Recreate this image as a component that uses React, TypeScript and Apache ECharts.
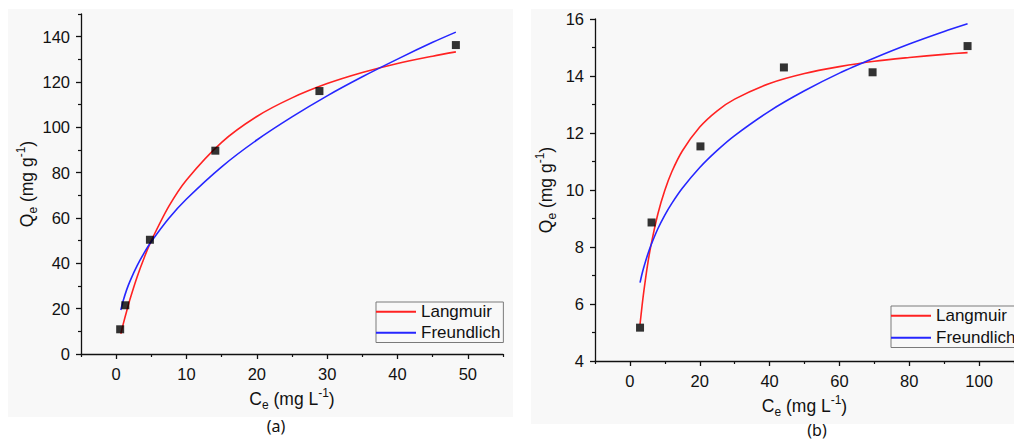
import React, { useEffect, useRef } from "react";
import * as echarts from "echarts";

// ---- Panel (a) ----
const aDataCe = [0.57, 1.3, 4.8, 14.1, 28.9, 48.3];
const aDataQe = [10.9, 21.5, 50.4, 89.7, 116, 136.3];
const aCurveCe = [0.66, 1, 1.5, 2, 3, 4, 5, 7.5, 10, 15, 20, 25, 30, 35, 40, 45, 48.3];
const aLangmuirQe = [8.96, 13.2, 19.0, 24.5, 34.2, 42.6, 50.0, 65.2, 76.8, 93.4, 104.8, 113.0, 119.3, 124.2, 128.2, 131.4, 133.3];
const aFreundlichQe = [19.4, 23.5, 28.4, 32.4, 39.1, 44.7, 49.6, 59.9, 68.4, 82.6, 94.4, 104.6, 113.9, 122.3, 130.1, 137.5, 142.0];
const aXMajor = [0, 10, 20, 30, 40, 50];
const aXMinor = [-5, 5, 15, 25, 35, 45, 55];
const aYMajor = [0, 20, 40, 60, 80, 100, 120, 140];
const aYMinor = [10, 30, 50, 70, 90, 110, 130, 150];

// ---- Panel (b) ----
const bDataCe = [2.9, 6.2, 20.2, 44.1, 69.5, 96.7];
const bDataQe = [5.17, 8.86, 11.53, 14.3, 14.13, 15.05];
const bCurveCe = [2.9, 3.5, 4, 5, 6, 8, 10, 12, 15, 20, 25, 30, 40, 50, 60, 70, 80, 90, 96.7];
const bLangmuirQe = [5.29, 5.96, 6.46, 7.33, 8.04, 9.16, 9.99, 10.64, 11.37, 12.21, 12.78, 13.19, 13.74, 14.09, 14.33, 14.52, 14.65, 14.76, 14.82];
const bFreundlichQe = [6.75, 7.07, 7.3, 7.7, 8.05, 8.64, 9.12, 9.53, 10.06, 10.79, 11.39, 11.91, 12.77, 13.48, 14.1, 14.63, 15.12, 15.56, 15.83];
const bXMajor = [0, 20, 40, 60, 80, 100];
const bXMinor = [-10, 10, 30, 50, 70, 90, 110];
const bYMajor = [4, 6, 8, 10, 12, 14, 16];
const bYMinor = [5, 7, 9, 11, 13, 15];

const legendNames = ["Langmuir", "Freundlich"];
const panelLabels = ["(a)", "(b)"];

const FONT = "'Liberation Sans', Arial, sans-serif";
const RED = "#ff2222";
const BLUE = "#2626ff";

const zip = (xs: number[], ys: number[]) => xs.map((x, i) => [x, ys[i]]);

const nameRich = {
  n: { fontSize: 17.5, fontFamily: FONT, color: "#111", lineHeight: 24 },
  sub: { fontSize: 12, fontFamily: FONT, color: "#111", verticalAlign: "bottom" as const },
  sup: { fontSize: 12, fontFamily: FONT, color: "#111", verticalAlign: "top" as const },
};

function majorAxis(grid: number, pos: string, min: number, max: number, interval: number, ticks: number[], name: string, gap: number) {
  return {
    type: "value",
    gridIndex: grid,
    position: pos,
    min,
    max,
    interval,
    name,
    nameLocation: "middle",
    nameGap: gap,
    nameTextStyle: { rich: nameRich },
    axisLine: { show: true, onZero: false, lineStyle: { color: "#111", width: 1.3 } },
    axisTick: { show: true, inside: false, length: 5, customValues: ticks, lineStyle: { color: "#111", width: 1.3 } },
    axisLabel: {
      show: true,
      margin: 11,
      fontSize: 16.5,
      fontFamily: FONT,
      color: "#111",
      customValues: ticks,
    },
    splitLine: { show: false },
  };
}

function minorAxis(grid: number, pos: string, min: number, max: number, interval: number, ticks: number[]) {
  return {
    type: "value",
    gridIndex: grid,
    position: pos,
    offset: 0,
    min,
    max,
    interval,
    axisLine: { show: false, onZero: false },
    axisTick: { show: true, inside: false, length: 3, customValues: ticks, lineStyle: { color: "#111", width: 1.2 } },
    axisLabel: { show: false },
    splitLine: { show: false },
  };
}

function legendFor(left: number, top: number, gap: number) {
  return {
    data: legendNames,
    left,
    top,
    orient: "vertical",
    icon: "rect",
    itemWidth: 40,
    itemHeight: 2,
    itemGap: gap,
    padding: [1.25, 3, 1.25, 0],
    borderColor: "#7a7a7a",
    borderWidth: 1,
    textStyle: { fontSize: 17, fontFamily: FONT, color: "#111" },
  };
}

function lineSeries(name: string, color: string, xi: number, yi: number, data: number[][]) {
  return {
    type: "line",
    name,
    xAxisIndex: xi,
    yAxisIndex: yi,
    data,
    smooth: 0.3,
    showSymbol: false,
    symbol: "none",
    color,
    lineStyle: { color, width: 1.6 },
    z: 2,
  };
}

function scatterSeries(name: string, xi: number, yi: number, data: number[][]) {
  return {
    type: "scatter",
    name,
    xAxisIndex: xi,
    yAxisIndex: yi,
    data,
    symbol: "rect",
    symbolSize: 8,
    itemStyle: { color: "#000" },
    z: 5,
  };
}

export default function App() {
  const ref = useRef<HTMLDivElement>(null);
  useEffect(() => {
    if (!ref.current) return;
    const chart = echarts.init(ref.current, undefined, { renderer: "svg" });
    const xName = "{n|C}{sub|e}{n| (mg L}{sup|-1}{n|)}";
    const yName = "{n|Q}{sub|e}{n| (mg g}{sup|-1}{n|)}";
    chart.setOption({
      animation: false,
      backgroundColor: "#ffffff",
      graphic: [
        { type: "rect", shape: { x: 8, y: 9, width: 505, height: 408 }, style: { fill: "#f8f8f8" }, z: -10, silent: true },
        { type: "rect", shape: { x: 531, y: 9, width: 490, height: 415 }, style: { fill: "#f8f8f8" }, z: -10, silent: true },
        { type: "text", x: 276, y: 426, style: { text: panelLabels[0], font: "16px 'Noto Sans', sans-serif", fill: "#111", align: "center", verticalAlign: "middle" }, z: 10 },
        { type: "text", x: 817, y: 430, style: { text: panelLabels[1], font: "16px 'Noto Sans', sans-serif", fill: "#111", align: "center", verticalAlign: "middle" }, z: 10 },
      ],
      grid: [
        { left: 81, top: 14, width: 422, height: 340 },
        { left: 595, top: 19, width: 425, height: 342 },
      ],
      xAxis: [
        majorAxis(0, "bottom", -5, 55, 5, aXMajor, xName, 33),
        minorAxis(0, "bottom", -5, 55, 5, aXMinor),
        majorAxis(1, "bottom", -10, 110, 10, bXMajor, xName, 32),
        minorAxis(1, "bottom", -10, 110, 10, bXMinor),
      ],
      yAxis: [
        majorAxis(0, "left", 0, 150, 10, aYMajor, yName, 41),
        minorAxis(0, "left", 0, 150, 10, aYMinor),
        majorAxis(1, "left", 4, 16, 1, bYMajor, yName, 37),
        minorAxis(1, "left", 4, 16, 1, bYMinor),
      ],
      legend: [legendFor(376, 302, 4), legendFor(891, 306, 5)],
      series: [
        lineSeries(legendNames[0], RED, 0, 0, zip(aCurveCe, aLangmuirQe)),
        lineSeries(legendNames[1], BLUE, 0, 0, zip(aCurveCe, aFreundlichQe)),
        scatterSeries("Data (a)", 0, 0, zip(aDataCe, aDataQe)),
        lineSeries(legendNames[0], RED, 2, 2, zip(bCurveCe, bLangmuirQe)),
        lineSeries(legendNames[1], BLUE, 2, 2, zip(bCurveCe, bFreundlichQe)),
        scatterSeries("Data (b)", 2, 2, zip(bDataCe, bDataQe)),
      ],
    });
    return () => chart.dispose();
  }, []);
  return (
    <div
      ref={ref}
      style={{ position: "absolute", left: 0, top: 0, width: 1014, height: 441, overflow: "hidden" }}
    />
  );
}
